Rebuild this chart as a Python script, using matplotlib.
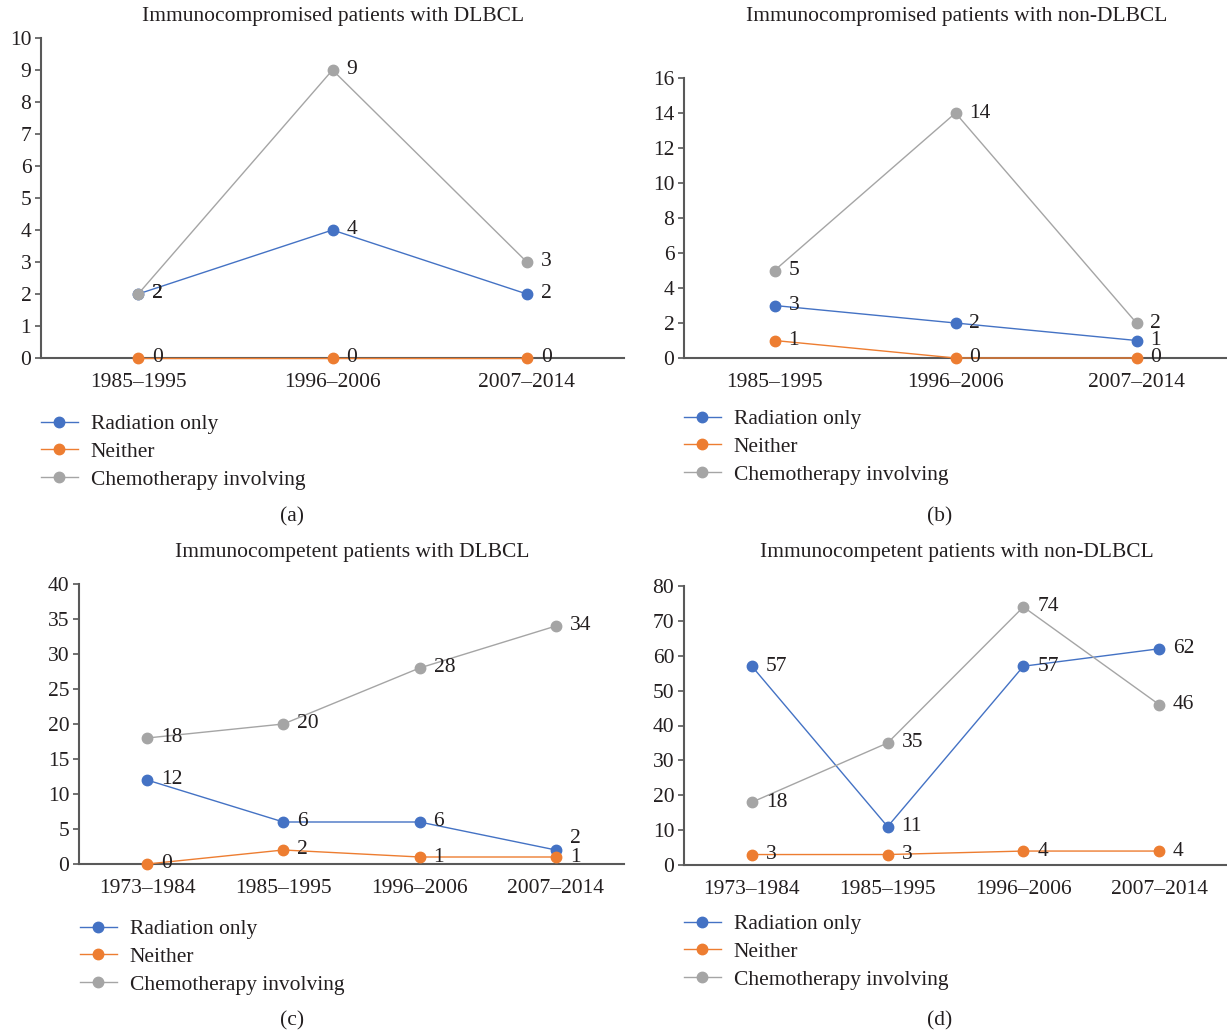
import matplotlib.pyplot as plt

plt.rcParams['font.family'] = ['Liberation Serif', 'DejaVu Serif']

W, H = 1227, 1036
FS = 15.5

series_names = ["Radiation only", "Neither", "Chemotherapy involving"]
colors = ["#4472C4", "#ED7D31", "#A5A5A5"]

periods_3 = ["1985\u20131995", "1996\u20132006", "2007\u20132014"]
periods_4 = ["1973\u20131984", "1985\u20131995", "1996\u20132006", "2007\u20132014"]

# immunocompromised, DLBCL
a_radiation = [2, 4, 2]
a_neither = [0, 0, 0]
a_chemo = [2, 9, 3]

# immunocompromised, non-DLBCL
b_radiation = [3, 2, 1]
b_neither = [1, 0, 0]
b_chemo = [5, 14, 2]

# immunocompetent, DLBCL
c_radiation = [12, 6, 6, 2]
c_neither = [0, 2, 1, 1]
c_chemo = [18, 20, 28, 34]

# immunocompetent, non-DLBCL
d_radiation = [57, 11, 57, 62]
d_neither = [3, 3, 4, 4]
d_chemo = [18, 35, 74, 46]

fig = plt.figure(figsize=(W / 100, H / 100), dpi=100)


def px_axes(left, top, right, bottom):
    return fig.add_axes([left / W, 1 - bottom / H, (right - left) / W, (bottom - top) / H])


def panel(box, cats, data, ymax, ystep, title, title_xy, legend_xy, tag_xy, lift=None):
    lift = lift or {}
    ax = px_axes(*box)
    x = list(range(len(cats)))
    lines = []
    for si, (vals, name, col) in enumerate(zip(data, series_names, colors)):
        ln, = ax.plot(x, vals, color=col, lw=1.0, marker='o', ms=7.5,
                      mec=col, mfc=col, label=name, clip_on=False, zorder=3)
        lines.append(ln)
        for xi, v in zip(x, vals):
            dy = lift.get((si, xi), 0)
            ax.annotate(str(v), (xi, v), xytext=(10, dy), textcoords='offset points',
                        ha='left', va='center', fontsize=FS, color='#231f20', zorder=4)
    ax.set_xlim(-0.5, len(cats) - 0.5)
    ax.set_ylim(0, ymax)
    ax.set_yticks(range(0, ymax + 1, ystep))
    ax.set_xticks(x)
    ax.set_xticklabels(cats)
    for s in ('top', 'right'):
        ax.spines[s].set_visible(False)
    for s in ('left', 'bottom'):
        ax.spines[s].set_color('#595959')
        ax.spines[s].set_linewidth(1.5)
    ax.tick_params(axis='x', length=0, pad=11, labelsize=FS, labelcolor='#231f20')
    ax.tick_params(axis='y', length=4, width=1.2, color='#595959', pad=3,
                   labelsize=FS, labelcolor='#231f20')
    fig.text(title_xy[0] / W, 1 - title_xy[1] / H, title, ha='center', va='center',
             fontsize=FS, color='#231f20')
    ax.legend(handles=lines, loc='upper left',
              bbox_to_anchor=(legend_xy[0] / W, 1 - legend_xy[1] / H),
              bbox_transform=fig.transFigure, frameon=False, fontsize=FS,
              borderpad=0, borderaxespad=0, handlelength=1.7, handletextpad=0.6,
              labelspacing=0.36, labelcolor='#231f20')
    fig.text(tag_xy[0] / W, 1 - tag_xy[1] / H, tag_xy[2], ha='center', va='center',
             fontsize=FS, color='#231f20')
    return ax


panel((41, 38, 624, 358), periods_3, [a_radiation, a_neither, a_chemo], 10, 1,
      "Immunocompromised patients with DLBCL", (333, 17), (41, 414), (292, 517, "(a)"))
panel((684, 78, 1227, 358), periods_3, [b_radiation, b_neither, b_chemo], 16, 2,
      "Immunocompromised patients with non-DLBCL", (957, 17), (684, 409), (940, 517, "(b)"))
panel((79, 584, 624, 864), periods_4, [c_radiation, c_neither, c_chemo], 40, 5,
      "Immunocompetent patients with DLBCL", (352, 553), (80, 919), (292, 1021, "(c)"),
      lift={(0, 3): 8})
panel((684, 586, 1227, 865), periods_4, [d_radiation, d_neither, d_chemo], 80, 10,
      "Immunocompetent patients with non-DLBCL", (957, 553), (684, 914), (940, 1021, "(d)"))

fig.savefig("out.png", dpi=100)
